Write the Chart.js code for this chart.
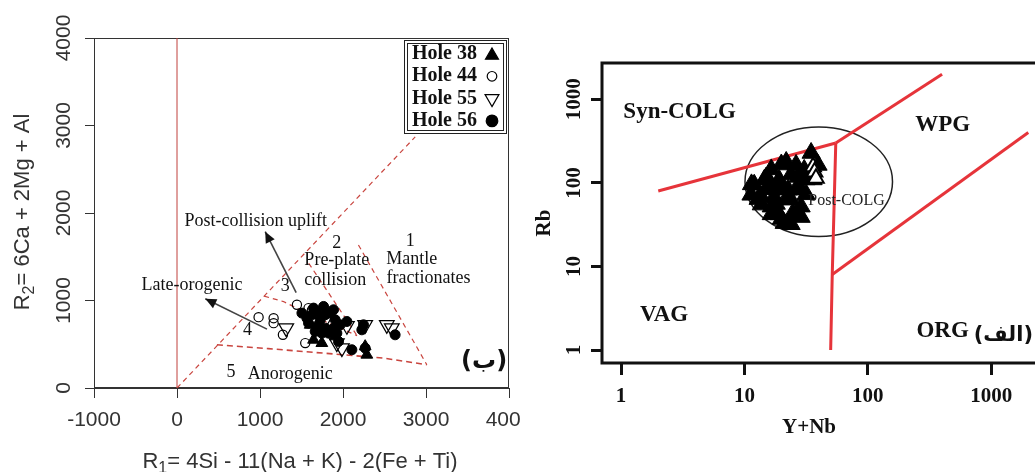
<!DOCTYPE html>
<html>
<head>
<meta charset="utf-8">
<title>R1-R2 and Rb vs Y+Nb diagrams</title>
<script src="https://cdn.jsdelivr.net/npm/chart.js@4.4.1/dist/chart.umd.min.js"></script>
<style>
  html, body { margin: 0; padding: 0; background: #fff; overflow: hidden; }
  .panel { position: absolute; top: 0; height: 472px; overflow: hidden; }
  #left-wrap  { left: 0;     width: 520px; }
  #right-wrap { left: 520px; width: 515px; }
  canvas { display: block; }
</style>
</head>
<body>
<div class="panel" id="left-wrap"><canvas id="r1r2" width="560" height="472"></canvas></div>
<div class="panel" id="right-wrap"><canvas id="rbynb" width="560" height="472"></canvas></div>

<script>
/* ---------- left panel (ب): R1-R2 diagram ---------- */

const r1Ticks = [-1000, 0, 1000, 2000, 3000, 4000];
const r2Ticks = [0, 1000, 2000, 3000, 4000];

const holeLabels = ['Hole 38', 'Hole 44', 'Hole 55', 'Hole 56'];

const hole38R1 = [1645, 1745, 2287, 2267, 1806, 1705, 1906, 1605];
const hole38R2 = [551, 513, 380, 475, 627, 684, 589, 722];

const hole44R1 = [1445, 1585, 983, 1164, 1164, 1276, 1545, 1705, 1826, 1625];
const hole44R2 = [951, 913, 810, 798, 741, 608, 513, 856, 875, 890];

const hole55R1 = [1316, 2047, 2267, 2528, 2588, 1987, 1786, 1926];
const hole55R2 = [684, 711, 722, 722, 684, 456, 779, 513];

const hole56R1 = [1505, 1565, 1625, 1685, 1726, 1786, 1846, 1906, 1886, 1786, 1705, 1665, 1826, 1926,
                  2047, 2227, 2247, 2628, 2107, 1946, 2267, 1745, 1585, 1645, 1966, 1766, 1886];
const hole56R2 = [856, 798, 837, 875, 779, 837, 856, 779, 684, 684, 722, 646, 627, 627,
                  760, 665, 722, 608, 437, 532, 456, 627, 741, 913, 722, 932, 894];

// field boundaries, [R1, R2] vertices
const zeroLine   = [[0, 0], [0, 4000]];
const lineA      = [[0, 0], [2870, 2870]];
const field5Top  = [[481, 494], [1100, 450], [2000, 380], [2500, 340], [3010, 266]];
const field12    = [[2186, 1635], [3010, 266]];
const field23    = [[1587, 1426], [2170, 598]];
const field4Top  = [[1050, 1050], [1283, 988], [1605, 836], [2170, 598]];
const arrowUplift = [[1436, 1091], [1063, 1786]];
const arrowLate   = [[1084, 673], [341, 1019]];

/* ---------- right panel (الف): Rb vs Y+Nb ---------- */

const ynbTicks = [1, 10, 100, 1000];
const rbTicks  = [1, 10, 100, 1000];

const filledYNb = [21.8, 34.7, 12.0, 14.5, 21.0, 24.8, 28.8, 17.4, 13.7, 16.5, 22.6,
                   27.2, 30.5, 39.5, 11.3, 19.1, 23.8, 19.1, 28.8, 16.5, 26.2,
                   11.4, 12.9, 15.0, 18.1, 19.9, 23.9, 26.2, 31.6, 19.9, 23.9, 16.5, 36.0,
                   13.7, 21.8, 16.5, 26.2, 19.9, 28.8, 15.0, 31.6];
const filledRb  = [178, 228, 95, 109, 33, 44, 52, 68, 68, 52, 83,
                   118, 143, 164, 72, 109, 63, 42, 83, 95, 164,
                   96, 64, 84, 56, 37, 32, 42, 73, 166, 126, 145, 110,
                   55, 64, 42, 84, 84, 39, 116, 110];
const openYNb = [36, 37, 38];
const openRb  = [156, 135, 114];

const synVagLine = [[2, 80], [55, 300]];
const synWpgLine = [[55, 300], [400, 2000]];
const vagWpgLine = [[55, 300], [51.5, 8], [50, 1]];
const orgWpgLine = [[51.5, 8], [2000, 400]];
const postColgBox = { xMin: 10.1, xMax: 158.6, yMin: 22.9, yMax: 467 };

/* ---------- helpers ---------- */

const SERIF = '"Liberation Serif", "Times New Roman", serif';
const SANS  = '"Liberation Sans", Arial, sans-serif';

const pts = (xs, ys) => xs.map((v, i) => ({ x: v, y: ys[i] }));
const seg = pairs => pairs.map(p => ({ x: p[0], y: p[1] }));

function lineSet(pairs, color, width, dash, extra) {
  return Object.assign({
    data: seg(pairs), showLine: true, pointRadius: 0,
    borderColor: color, borderWidth: width, borderDash: dash || [],
    fill: false, order: 5
  }, extra || {});
}

function marker(ctx, style, x, y, r, filled) {
  ctx.beginPath();
  if (style === 'circle') {
    ctx.arc(x, y, r, 0, Math.PI * 2);
  } else {
    const d = style === 'down' ? -1 : 1;
    ctx.moveTo(x, y - d * r);
    ctx.lineTo(x + r * 0.866, y + d * r * 0.5);
    ctx.lineTo(x - r * 0.866, y + d * r * 0.5);
    ctx.closePath();
  }
  if (filled) { ctx.fillStyle = '#000'; ctx.fill(); }
  ctx.strokeStyle = '#000'; ctx.lineWidth = 1.2; ctx.stroke();
}

function subTitle(ctx, base, sub, rest, cx, cy, size, rot) {
  ctx.save();
  ctx.translate(cx, cy);
  if (rot) ctx.rotate(rot);
  ctx.fillStyle = '#333';
  ctx.textBaseline = 'alphabetic';
  ctx.textAlign = 'left';
  ctx.font = size + 'px ' + SANS;
  const w1 = ctx.measureText(base).width, w3 = ctx.measureText(rest).width;
  ctx.font = Math.round(size * 0.72) + 'px ' + SANS;
  const w2 = ctx.measureText(sub).width;
  let x = -(w1 + w2 + w3) / 2;
  const baseY = size * 0.36;
  ctx.font = size + 'px ' + SANS;
  ctx.fillText(base, x, baseY); x += w1;
  ctx.font = Math.round(size * 0.72) + 'px ' + SANS;
  ctx.fillText(sub, x, baseY + size * 0.22); x += w2;
  ctx.font = size + 'px ' + SANS;
  ctx.fillText(rest, x, baseY);
  ctx.restore();
}

function notes(chart, list) {
  const { ctx, scales: { x, y } } = chart;
  ctx.save();
  ctx.textAlign = 'center';
  ctx.textBaseline = 'middle';
  list.forEach(t => {
    ctx.font = t.font;
    ctx.fillStyle = t.color || '#111';
    ctx.fillText(t.text, x.getPixelForValue(t.x), y.getPixelForValue(t.y));
  });
  ctx.restore();
}

/* ---------- left chart ---------- */

const noteFont = '18px ' + SERIF;
const leftNotes = [
  { text: 'Post-collision uplift', x: 949, y: 1900, font: noteFont },
  { text: '2', x: 1926, y: 1654, font: noteFont },
  { text: 'Pre-plate', x: 1926, y: 1464, font: noteFont },
  { text: 'collision', x: 1906, y: 1235, font: noteFont },
  { text: '1', x: 2809, y: 1677, font: noteFont },
  { text: 'Mantle', x: 2829, y: 1472, font: noteFont },
  { text: 'fractionates', x: 3029, y: 1255, font: noteFont },
  { text: 'Late-orogenic', x: 181, y: 1178, font: noteFont },
  { text: '3', x: 1304, y: 1159, font: noteFont },
  { text: '4', x: 850, y: 665, font: noteFont },
  { text: '5', x: 650, y: 178, font: noteFont },
  { text: 'Anorogenic', x: 1364, y: 152, font: noteFont },
  { text: '(ب)', x: 3700, y: 303, font: 'bold 24px "DejaVu Sans", sans-serif' }
];

const r1r2Decor = {
  id: 'r1r2Decor',
  beforeDatasetsDraw(chart) {
    const { ctx, chartArea: a } = chart;
    ctx.save();
    ctx.strokeStyle = '#333';
    ctx.lineWidth = 1;
    ctx.strokeRect(a.left + 0.5, a.top + 0.5, a.right - a.left - 1, a.bottom - a.top - 1);
    ctx.restore();
  },
  afterDatasetsDraw(chart) {
    const { ctx } = chart;
    chart.data.datasets.forEach((ds, i) => {
      if (!ds.arrow) return;
      const els = chart.getDatasetMeta(i).data;
      const p1 = els[els.length - 2], p2 = els[els.length - 1];
      const ang = Math.atan2(p2.y - p1.y, p2.x - p1.x);
      ctx.save();
      ctx.translate(p2.x, p2.y);
      ctx.rotate(ang);
      ctx.beginPath();
      ctx.moveTo(0, 0);
      ctx.lineTo(-11, -5);
      ctx.lineTo(-11, 5);
      ctx.closePath();
      ctx.fillStyle = '#111';
      ctx.fill();
      ctx.restore();
    });
    notes(chart, leftNotes);
  },
  afterDraw(chart) {
    const { ctx, chartArea: a } = chart;
    // legend box, double frame
    const bx = a.right - 105, by = a.top + 2;
    ctx.save();
    ctx.strokeStyle = '#222';
    ctx.lineWidth = 1;
    ctx.strokeRect(bx + 0.5, by + 0.5, 102, 93);
    ctx.strokeRect(bx + 3.5, by + 3.5, 96, 87);
    const styles = [['up', true, 7.5], ['circle', false, 4.8], ['down', false, 8], ['circle', true, 5.8]];
    ctx.font = 'bold 20px ' + SERIF;
    ctx.textBaseline = 'middle';
    ctx.textAlign = 'left';
    holeLabels.forEach((lab, i) => {
      const ry = by + 14 + i * 22.3;
      ctx.fillStyle = '#111';
      ctx.fillText(lab, bx + 8, ry);
      marker(ctx, styles[i][0], bx + 88, ry + (styles[i][0] === 'up' ? 1.5 : 0), styles[i][2], styles[i][1]);
    });
    ctx.restore();

    subTitle(ctx, 'R', '1', '= 4Si - 11(Na + K) - 2(Fe + Ti)', 300, 460, 22, 0);
    subTitle(ctx, 'R', '2', '= 6Ca + 2Mg + Al', 21, 212, 22, -Math.PI / 2);
  }
};

new Chart(document.getElementById('r1r2'), {
  type: 'scatter',
  data: {
    datasets: [
      { label: holeLabels[0], data: pts(hole38R1, hole38R2), pointStyle: 'triangle', pointRadius: 6.8,
        backgroundColor: '#000', borderColor: '#000', borderWidth: 1, order: 1 },
      { label: holeLabels[3], data: pts(hole56R1, hole56R2), pointStyle: 'circle', pointRadius: 5,
        backgroundColor: '#000', borderColor: '#000', borderWidth: 1, order: 2 },
      { label: holeLabels[1], data: pts(hole44R1, hole44R2), pointStyle: 'circle', pointRadius: 4.6,
        backgroundColor: 'rgba(255,255,255,0)', borderColor: '#000', borderWidth: 1.2, order: 0 },
      { label: holeLabels[2], data: pts(hole55R1, hole55R2), pointStyle: 'triangle', pointRotation: 180,
        pointRadius: 8.5, backgroundColor: 'rgba(255,255,255,0)', borderColor: '#000', borderWidth: 1.2, order: 0 },
      lineSet(zeroLine, '#c0403c', 1),
      lineSet(lineA, '#c9453f', 1.2, [5, 4]),
      lineSet(field5Top, '#c9453f', 1.6, [6, 4]),
      lineSet(field12, '#c9453f', 1.2, [5, 4]),
      lineSet(field23, '#c9453f', 1.2, [5, 4]),
      lineSet(field4Top, '#c9453f', 1.2, [5, 4]),
      lineSet(arrowUplift, '#444', 1.6, [], { arrow: true, order: 3 }),
      lineSet(arrowLate, '#444', 1.6, [], { arrow: true, order: 3 })
    ]
  },
  options: {
    responsive: false,
    devicePixelRatio: 1,
    animation: false,
    events: [],
    layout: { padding: { top: 38, right: 51, left: 0, bottom: 0 } },
    plugins: { legend: { display: false }, tooltip: { enabled: false } },
    scales: {
      x: {
        type: 'linear', min: -1000, max: 4000,
        afterBuildTicks: s => { s.ticks = r1Ticks.map(v => ({ value: v })); },
        afterFit: s => { s.height = 84; },
        border: { display: true, color: '#333', width: 1 },
        grid: { drawOnChartArea: false, drawTicks: true, tickLength: 10, color: '#333' },
        ticks: { autoSkip: false, maxRotation: 0, padding: 10, color: '#333',
                 font: { family: SANS, size: 21 }, callback: v => String(v) }
      },
      y: {
        type: 'linear', min: 0, max: 4000,
        afterBuildTicks: s => { s.ticks = r2Ticks.map(v => ({ value: v })); },
        afterFit: s => { s.width = 94; },
        border: { display: true, color: '#333', width: 1 },
        grid: { drawOnChartArea: false, drawTicks: true, tickLength: 9, color: '#333' },
        ticks: { autoSkip: false, minRotation: 90, maxRotation: 90, crossAlign: 'center',
                 padding: -3, color: '#333', font: { family: SANS, size: 21 }, callback: v => String(v) }
      }
    }
  },
  plugins: [r1r2Decor]
});

/* ---------- right chart ---------- */

const boldSerif = size => 'bold ' + size + 'px ' + SERIF;
const rightNotes = [
  { text: 'Syn-COLG', x: 2.98, y: 697, font: boldSerif(23) },
  { text: 'WPG', x: 404, y: 497, font: boldSerif(23) },
  { text: 'VAG', x: 2.23, y: 2.65, font: boldSerif(23) },
  { text: 'ORG', x: 404, y: 1.67, font: boldSerif(23) },
  { text: 'Post-COLG', x: 67.2, y: 61.9, font: '16px ' + SERIF, color: '#222' },
  { text: '(الف)', x: 1257, y: 1.5, font: 'bold 21px "DejaVu Sans", sans-serif' }
];

const rbDecor = {
  id: 'rbDecor',
  beforeDatasetsDraw(chart) {
    const { ctx, scales: { x, y } } = chart;
    ctx.save();
    const x1 = x.getPixelForValue(postColgBox.xMin), x2 = x.getPixelForValue(postColgBox.xMax);
    const y1 = y.getPixelForValue(postColgBox.yMax), y2 = y.getPixelForValue(postColgBox.yMin);
    ctx.beginPath();
    ctx.ellipse((x1 + x2) / 2, (y1 + y2) / 2, (x2 - x1) / 2, (y2 - y1) / 2, 0, 0, Math.PI * 2);
    ctx.strokeStyle = '#222';
    ctx.lineWidth = 1.5;
    ctx.stroke();
    ctx.restore();
  },
  afterDatasetsDraw(chart) {
    notes(chart, rightNotes);
  },
  afterDraw(chart) {
    const { ctx, chartArea: a } = chart;
    ctx.save();
    ctx.strokeStyle = '#111';
    ctx.lineWidth = 3;
    ctx.strokeRect(a.left, a.top, a.right - a.left, a.bottom - a.top);
    ctx.fillStyle = '#111';
    ctx.font = boldSerif(21);
    ctx.textAlign = 'center';
    ctx.textBaseline = 'middle';
    ctx.fillText('Y+Nb', 289, 428);
    ctx.translate(25, 223);
    ctx.rotate(-Math.PI / 2);
    ctx.fillText('Rb', 0, 0);
    ctx.restore();
  }
};

new Chart(document.getElementById('rbynb'), {
  type: 'scatter',
  data: {
    datasets: [
      { data: pts(filledYNb, filledRb), pointStyle: 'triangle', pointRadius: 10.5,
        backgroundColor: '#000', borderColor: '#000', borderWidth: 1, order: 1 },
      { data: pts(openYNb, openRb), pointStyle: 'triangle', pointRadius: 9,
        backgroundColor: '#fff', borderColor: '#000', borderWidth: 2, order: 0 },
      lineSet(synVagLine, '#e6343a', 3),
      lineSet(synWpgLine, '#e6343a', 3),
      lineSet(vagWpgLine, '#e6343a', 3),
      lineSet(orgWpgLine, '#e6343a', 3)
    ]
  },
  options: {
    responsive: false,
    devicePixelRatio: 1,
    animation: false,
    events: [],
    layout: { padding: { top: 63, right: 30, left: 0, bottom: 0 } },
    plugins: { legend: { display: false }, tooltip: { enabled: false } },
    scales: {
      x: {
        type: 'logarithmic', min: 0.72, max: 3000,
        afterBuildTicks: s => { s.ticks = ynbTicks.map(v => ({ value: v })); },
        afterFit: s => { s.height = 109; },
        border: { display: false },
        grid: { drawOnChartArea: false, drawTicks: true, tickLength: 12, tickWidth: 3, tickColor: '#111', color: '#111' },
        ticks: { autoSkip: false, maxRotation: 0, padding: 9, color: '#111',
                 font: { family: SERIF, size: 21, weight: 'bold' }, callback: v => String(v) }
      },
      y: {
        type: 'logarithmic', min: 0.73, max: 2720,
        afterBuildTicks: s => { s.ticks = rbTicks.map(v => ({ value: v })); },
        afterFit: s => { s.width = 82; },
        border: { display: false },
        grid: { drawOnChartArea: false, drawTicks: true, tickLength: 11, tickWidth: 3, tickColor: '#111', color: '#111' },
        ticks: { autoSkip: false, minRotation: 90, maxRotation: 90, crossAlign: 'center', padding: -5,
                 color: '#111', font: { family: SERIF, size: 21, weight: 'bold' }, callback: v => String(v) }
      }
    }
  },
  plugins: [rbDecor]
});
</script>
</body>
</html>
